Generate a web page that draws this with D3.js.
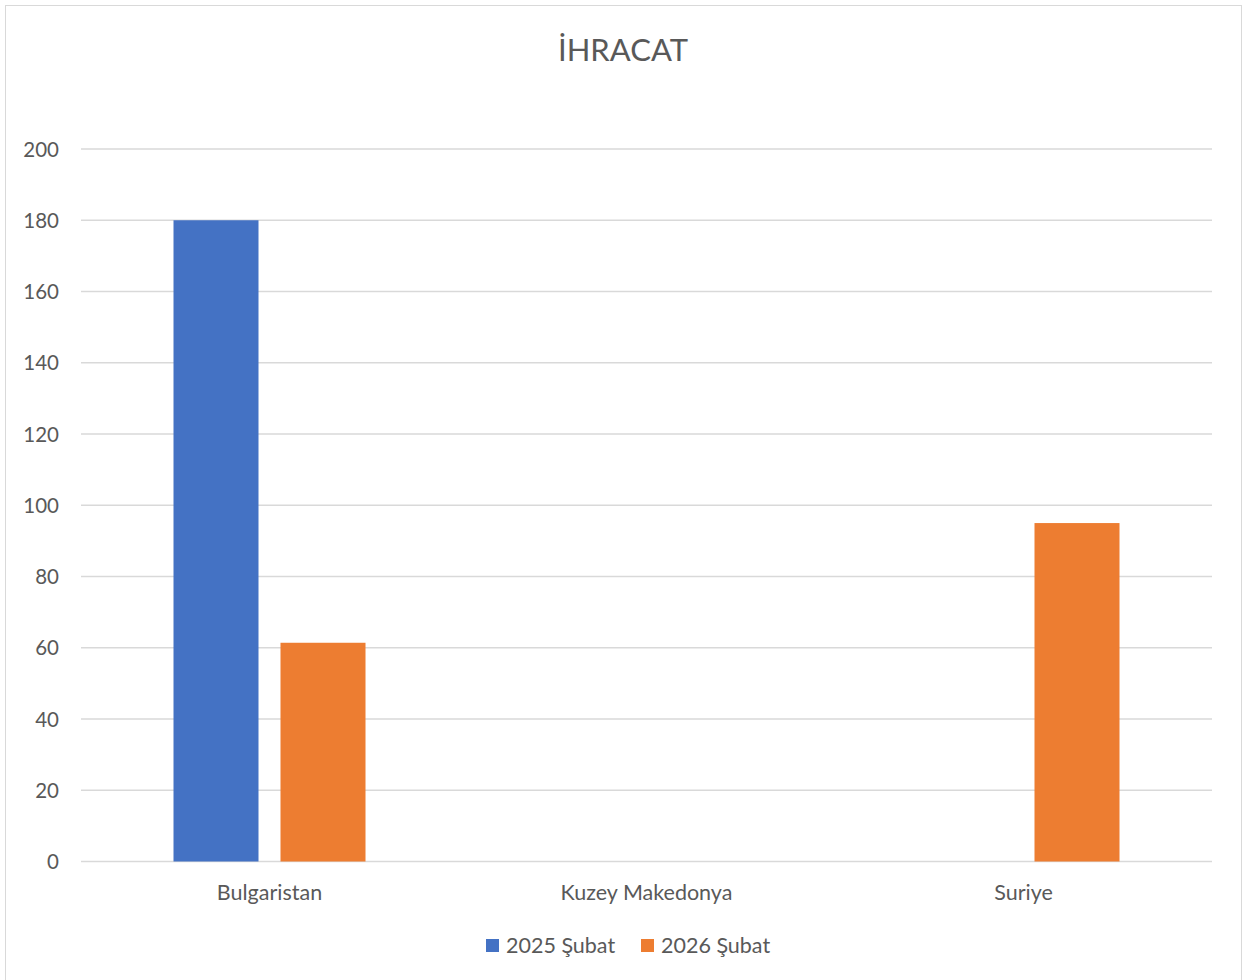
<!DOCTYPE html>
<html lang="tr">
<head>
<meta charset="UTF-8">
<title>İHRACAT</title>
<script src="https://d3js.org/d3.v7.min.js"></script>
<style>
body { margin: 0; background: #fff; }
text { font-family: Lato, "Open Sans", sans-serif; fill: #595959; }
</style>
</head>
<body>
<svg width="1245" height="980"></svg>
<script>
// data
var categories = ["Bulgaristan", "Kuzey Makedonya", "Suriye"];
var seriesNames = ["2025 Şubat", "2026 Şubat"];
var values2025 = [180, 0, 0];
var values2026 = [61.4, 0, 95];
var yTicks = [0, 20, 40, 60, 80, 100, 120, 140, 160, 180, 200];
var colors = ["#4472c4", "#ed7d31"];

var svg = d3.select("svg");

// outer chart border
svg.append("rect")
    .attr("x", 5.5).attr("y", 5.5)
    .attr("width", 1236).attr("height", 990)
    .attr("fill", "none")
    .attr("stroke", "#d9d9d9");

var plotLeft = 81, plotRight = 1212, plotTop = 149, plotBottom = 861.5;

var x = d3.scaleBand().domain(categories).range([plotLeft, plotRight]).padding(0);
var y = d3.scaleLinear().domain([0, 200]).range([plotBottom, plotTop]);

// gridlines
svg.append("g").selectAll("line")
    .data(yTicks)
    .enter().append("line")
    .attr("x1", plotLeft).attr("x2", plotRight)
    .attr("y1", function(d) { return y(d); })
    .attr("y2", function(d) { return y(d); })
    .attr("stroke", "#d9d9d9")
    .attr("stroke-width", 1.5);

// y tick labels
svg.append("g").selectAll("text")
    .data(yTicks)
    .enter().append("text")
    .attr("x", 59)
    .attr("y", function(d) { return y(d) + 7.5; })
    .attr("text-anchor", "end")
    .style("font-size", "20.5px")
    .text(function(d) { return d; });

// bars
var barW = 85, gap = 22;
var rows = [];
categories.forEach(function(c, i) {
  rows.push({cat: c, s: 0, v: values2025[i]});
  rows.push({cat: c, s: 1, v: values2026[i]});
});
var xs = d3.scaleBand().domain([0, 1])
    .range([-(barW + gap / 2), barW + gap / 2])
    .paddingInner(gap / (barW + gap));

svg.append("g").selectAll("rect")
    .data(rows.filter(function(d) { return d.v > 0; }))
    .enter().append("rect")
    .attr("x", function(d) { return x(d.cat) + x.bandwidth() / 2 + xs(d.s); })
    .attr("width", xs.bandwidth())
    .attr("y", function(d) { return y(d.v); })
    .attr("height", function(d) { return y(0) - y(d.v); })
    .attr("fill", function(d) { return colors[d.s]; });

// category labels
svg.append("g").selectAll("text")
    .data(categories)
    .enter().append("text")
    .attr("x", function(d) { return x(d) + x.bandwidth() / 2; })
    .attr("y", 900)
    .attr("text-anchor", "middle")
    .style("font-size", "21.5px")
    .text(function(d) { return d; });

// title
svg.append("text")
    .attr("x", 623).attr("y", 61)
    .attr("text-anchor", "middle")
    .style("font-size", "31px")
    .text("İHRACAT");

// legend
var legend = svg.append("g");
var lx = [486, 641];
seriesNames.forEach(function(n, i) {
  legend.append("rect")
    .attr("x", lx[i]).attr("y", 939)
    .attr("width", 13).attr("height", 13)
    .attr("fill", colors[i]);
  legend.append("text")
    .attr("x", lx[i] + 20).attr("y", 953)
    .style("font-size", "21.5px")
    .text(n);
});
</script>
</body>
</html>
